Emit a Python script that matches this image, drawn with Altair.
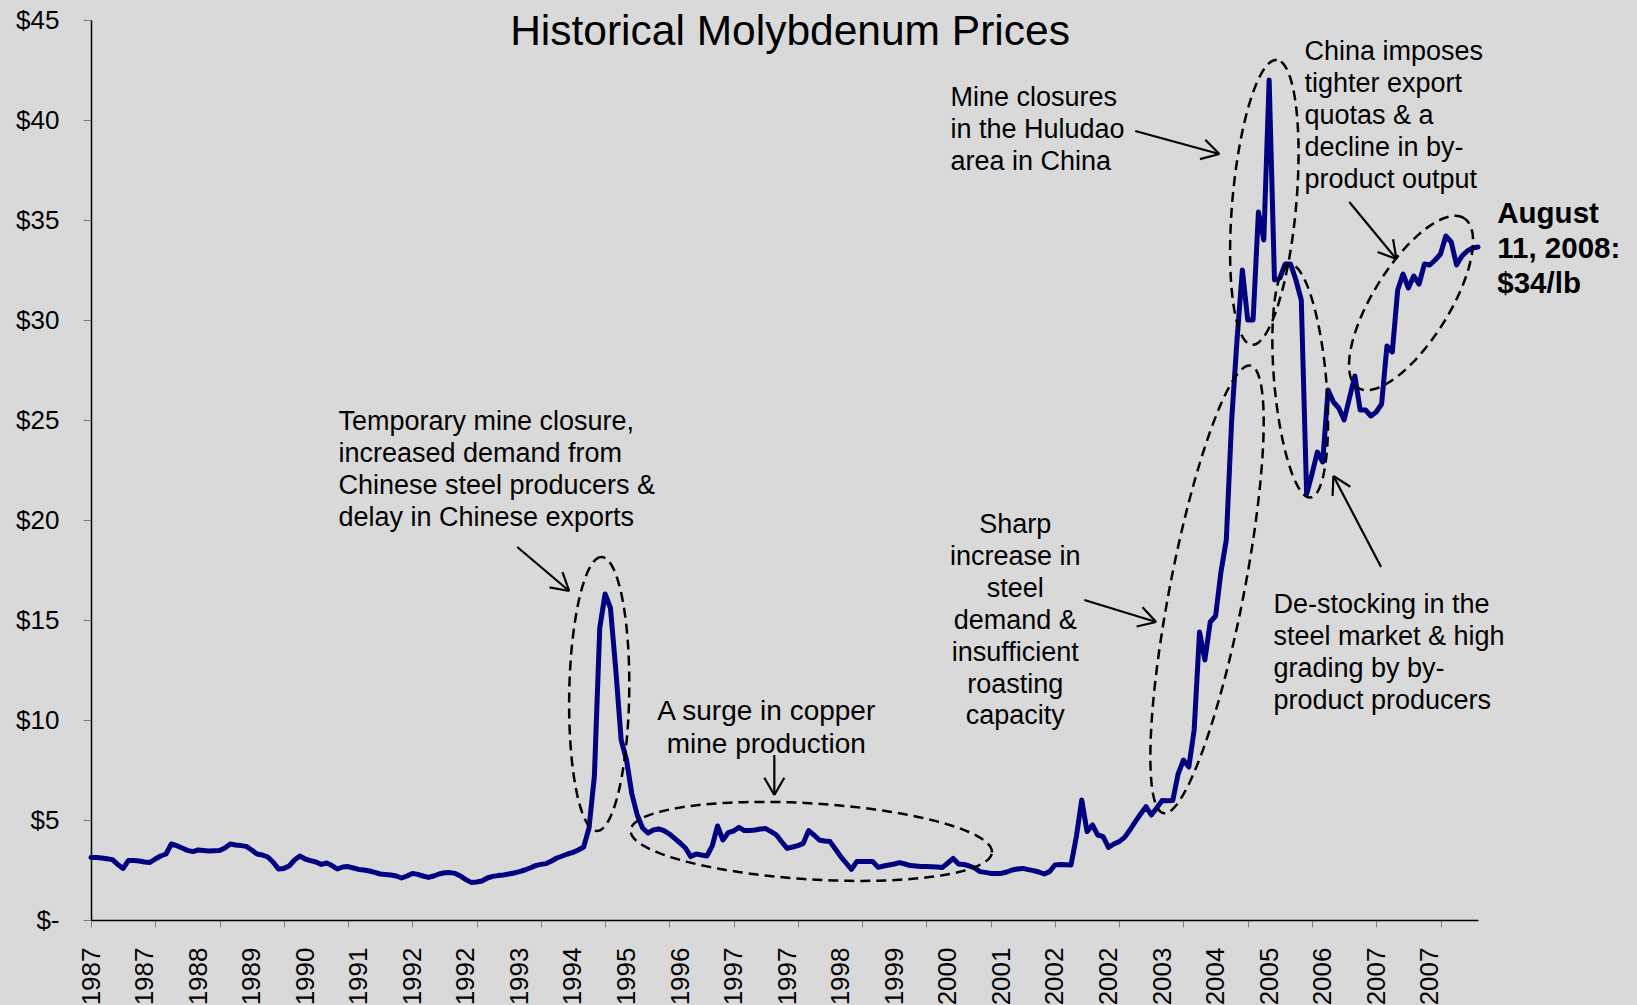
import math
import altair as alt
import pandas as pd

# Monthly molybdenum oxide price, US$ per lb, January 1987 to August 2008
p1987 = [3.13, 3.12, 3.10, 3.06, 3.02, 2.78, 2.58, 2.98, 2.97, 2.95, 2.90, 2.88]
p1988 = [3.05, 3.20, 3.30, 3.80, 3.72, 3.60, 3.48, 3.42, 3.50, 3.48, 3.45, 3.46]
p1989 = [3.47, 3.60, 3.80, 3.75, 3.72, 3.68, 3.50, 3.30, 3.25, 3.15, 2.90, 2.55]
p1990 = [2.58, 2.70, 3.00, 3.20, 3.05, 2.97, 2.90, 2.78, 2.85, 2.72, 2.55, 2.65]
p1991 = [2.67, 2.60, 2.53, 2.50, 2.45, 2.38, 2.30, 2.28, 2.25, 2.20, 2.10, 2.20]
p1992 = [2.33, 2.28, 2.20, 2.13, 2.20, 2.30, 2.36, 2.37, 2.33, 2.20, 2.02, 1.88]
p1993 = [1.90, 1.95, 2.10, 2.18, 2.22, 2.25, 2.30, 2.35, 2.42, 2.50, 2.60, 2.72]
p1994 = [2.78, 2.82, 2.95, 3.10, 3.20, 3.30, 3.38, 3.50, 3.65, 4.60, 7.20, 14.60]
p1995 = [16.30, 15.60, 12.50, 9.00, 8.00, 6.30, 5.25, 4.60, 4.35, 4.50, 4.55, 4.47]
p1996 = [4.30, 4.08, 3.85, 3.60, 3.17, 3.30, 3.25, 3.20, 3.70, 4.70, 4.00, 4.37]
p1997 = [4.45, 4.63, 4.47, 4.48, 4.50, 4.55, 4.57, 4.42, 4.25, 3.90, 3.58, 3.65]
p1998 = [3.72, 3.83, 4.47, 4.25, 4.00, 3.95, 3.92, 3.55, 3.17, 2.85, 2.53, 2.92]
p1999 = [2.92, 2.92, 2.92, 2.63, 2.70, 2.75, 2.80, 2.87, 2.80, 2.72, 2.70, 2.68]
p2000 = [2.67, 2.66, 2.65, 2.63, 2.85, 3.08, 2.80, 2.78, 2.70, 2.60, 2.42, 2.38]
p2001 = [2.33, 2.33, 2.33, 2.40, 2.50, 2.55, 2.58, 2.52, 2.47, 2.40, 2.30, 2.42]
p2002 = [2.75, 2.77, 2.76, 2.75, 4.17, 6.00, 4.42, 4.75, 4.25, 4.17, 3.63, 3.80]
p2003 = [3.92, 4.13, 4.50, 4.92, 5.30, 5.67, 5.25, 5.60, 5.97, 5.96, 5.97, 7.30]
p2004 = [8.00, 7.65, 9.50, 14.40, 13.00, 14.90, 15.20, 17.40, 19.00, 25.00, 29.00, 32.50]
p2005 = [30.00, 30.00, 35.40, 34.00, 42.00, 32.00, 32.10, 32.80, 32.80, 32.00, 31.00, 21.30]
p2006 = [22.30, 23.40, 22.90, 26.50, 25.90, 25.60, 25.00, 26.10, 27.20, 25.50, 25.50, 25.20]
p2007 = [25.40, 25.80, 28.70, 28.40, 31.50, 32.30, 31.60, 32.20, 31.80, 32.80, 32.75, 33.00]
p2008 = [33.30, 34.20, 33.90, 32.75, 33.20, 33.45, 33.60, 33.65]

prices = (p1987 + p1988 + p1989 + p1990 + p1991 + p1992 + p1993 + p1994 + p1995
          + p1996 + p1997 + p1998 + p1999 + p2000 + p2001 + p2002 + p2003 + p2004
          + p2005 + p2006 + p2007 + p2008)

# Category axis: a tick mark every 12 months, a year label every 10 months
tick_months = [0, 12, 24, 36, 48, 60, 72, 84, 96, 108, 120, 132, 144, 156, 168,
               180, 192, 204, 216, 228, 240, 252]
label_months = [0, 10, 20, 30, 40, 50, 60, 70, 80, 90, 100, 110, 120, 130, 140,
                150, 160, 170, 180, 190, 200, 210, 220, 230, 240, 250]
label_years = ["1987", "1987", "1988", "1989", "1990", "1991", "1992", "1992",
               "1993", "1994", "1995", "1996", "1997", "1997", "1998", "1999",
               "2000", "2001", "2002", "2002", "2003", "2004", "2005", "2006",
               "2007", "2007"]
y_ticks = [0, 5, 10, 15, 20, 25, 30, 35, 40, 45]

TITLE = "Historical Molybdenum Prices"

# Callout texts: (text, month, price at first baseline, font size)
notes_left = [
    ("Temporary mine closure,\nincreased demand from\nChinese steel producers &\ndelay in Chinese exports", 46.2, 24.5, 27),
    ("Mine closures\nin the Huludao\narea in China", 160.5, 40.68, 27),
    ("China imposes\ntighter export\nquotas & a\ndecline in by-\nproduct output", 226.6, 42.98, 27),
    ("De-stocking in the\nsteel market & high\ngrading by by-\nproduct producers", 220.8, 15.35, 27),
]
notes_center = [
    ("A surge in copper\nmine production", 126.1, 10.0, 28),
    ("Sharp\nincrease in\nsteel\ndemand &\ninsufficient\nroasting\ncapacity", 172.6, 19.35, 27),
]
notes_bold = [("August\n11, 2008:\n$34/lb", 262.6, 34.85, 29.5)]

# Arrows: start (month, price) -> tip (month, price)
arrows = [
    (79.6, 18.65, 89.3, 16.45),
    (127.6, 8.25, 127.6, 6.25),
    (185.5, 16.0, 198.9, 14.9),
    (195.0, 39.45, 210.7, 38.3),
    (234.97, 35.9, 243.76, 33.05),
    (240.9, 17.65, 232.0, 22.2),
]

# Dashed ellipses: centre (month, price), semi-axes in px, tilt in degrees
ellipses = [
    (94.9, 11.3, 137, 30, 89),
    (134.5, 3.93, 181, 38, -3.5),
    (208.4, 16.53, 228, 37, 79),
    (219.1, 35.88, 143, 32, 85),
    (225.8, 26.95, 117, 26, 95),
    (246.5, 30.85, 100, 38, 58),
]

W, H = 1387, 900
X_MAX, Y_MAX = 259, 45
PX_M = W / X_MAX
PX_D = H / Y_MAX
FONT = "Liberation Sans"

series = pd.DataFrame({"m": list(range(len(prices))), "p": prices})

# ellipse outlines
ell_rows = []
for eid, (cm, cp, a, b, ang) in enumerate(ellipses):
    th = math.radians(ang)
    n = 144
    for k in range(n + 1):
        t = 2 * math.pi * k / n
        dx = a * math.cos(t) * math.cos(th) - b * math.sin(t) * math.sin(th)
        dy = a * math.cos(t) * math.sin(th) + b * math.sin(t) * math.cos(th)
        ell_rows.append({"eid": eid, "k": k, "m": cm + dx / PX_M, "p": cp + dy / PX_D})
ell_df = pd.DataFrame(ell_rows)

# arrow shafts and open heads
seg_rows = []
HEAD = 20
for (m0, p0, m1, p1) in arrows:
    seg_rows.append({"m": m0, "p": p0, "m2": m1, "p2": p1})
    dx, dy = (m1 - m0) * PX_M, (p1 - p0) * PX_D
    L = math.hypot(dx, dy)
    bx, by = -dx / L, -dy / L
    for s in (1, -1):
        a = math.radians(30 * s)
        rx = bx * math.cos(a) - by * math.sin(a)
        ry = bx * math.sin(a) + by * math.cos(a)
        seg_rows.append({"m": m1, "p": p1, "m2": m1 + rx * HEAD / PX_M, "p2": p1 + ry * HEAD / PX_D})
seg_df = pd.DataFrame(seg_rows)

label_expr = " : ".join(
    f"datum.value === {m} ? '{y}'" for m, y in zip(label_months, label_years)
) + " : ''"
tick_list = "[" + ",".join(str(t) for t in tick_months) + "]"

x_scale = alt.Scale(domain=[0, X_MAX], nice=False, zero=False)
y_scale = alt.Scale(domain=[0, Y_MAX], nice=False, zero=True)

x_axis = alt.Axis(
    values=sorted(set(tick_months) | set(label_months)),
    labelExpr=label_expr,
    labelAngle=270,
    labelFont=FONT,
    labelFontSize=26,
    labelColor="black",
    labelPadding=20,
    labelOverlap=False,
    labelFlush=False,
    tickSize=7,
    tickColor="#7f7f7f",
    tickOpacity={"condition": {"test": f"indexof({tick_list}, datum.value) >= 0", "value": 1}, "value": 0},
    domainColor="black",
    domainWidth=1.5,
    grid=False,
    title=None,
)
y_axis = alt.Axis(
    values=y_ticks,
    labelExpr="datum.value === 0 ? '$-\u00a0\u00a0' : '$' + datum.value",
    labelFont=FONT,
    labelFontSize=26,
    labelColor="black",
    labelPadding=24,
    labelFlush=False,
    tickSize=8,
    tickColor="#7f7f7f",
    domainColor="black",
    domainWidth=1.5,
    grid=False,
    title=None,
)

X = alt.X("m:Q", scale=x_scale, axis=x_axis)
Y = alt.Y("p:Q", scale=y_scale, axis=y_axis)

price_line = alt.Chart(series).mark_line(
    color="#000080", strokeWidth=5, strokeJoin="round", strokeCap="round"
).encode(x=X, y=Y)

ellipse_layer = alt.Chart(ell_df).mark_line(
    color="black", strokeWidth=2.5, strokeDash=[10, 6]
).encode(x=X, y=Y, detail="eid:N", order="k:Q")

arrow_layer = alt.Chart(seg_df).mark_rule(color="black", strokeWidth=2.2).encode(
    x=X, y=Y, x2="m2:Q", y2="p2:Q"
)


def note_layer(rows, align, weight="normal"):
    layers = []
    for txt, m, p, size in rows:
        df = pd.DataFrame({"txt": [txt], "m": [m], "p": [p]})
        layers.append(alt.Chart(df).mark_text(
            align=align, baseline="alphabetic", font=FONT, fontSize=size,
            fontWeight=weight, lineBreak="\n", lineHeight=round(size * 1.18, 1),
            color="black",
        ).encode(x=X, y=Y, text="txt:N"))
    return layers


text_layers = (note_layer(notes_left, "left") + note_layer(notes_center, "center")
               + note_layer(notes_bold, "left", "bold"))

title_layer = alt.Chart(pd.DataFrame({"t": [TITLE]})).mark_text(
    font=FONT, fontSize=42.5, color="black", align="center", baseline="alphabetic"
).encode(text="t:N", x=alt.value(699), y=alt.value(25))

chart = alt.layer(
    price_line, ellipse_layer, arrow_layer, *text_layers, title_layer
).properties(
    width=W,
    height=H,
    padding={"left": 91, "top": 20, "right": 159, "bottom": 85},
    autosize=alt.AutoSizeParams(type="none"),
    background="#d9d9d9",
).configure_view(stroke=None).configure(font=FONT)

chart.save("out.html", embed_options={"renderer": "svg", "actions": False})
